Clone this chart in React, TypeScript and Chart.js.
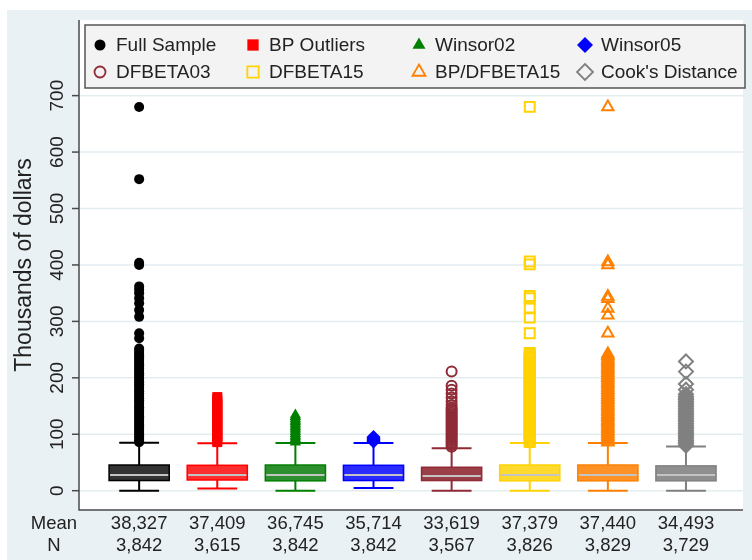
import React, { useEffect, useRef } from "react";
import { Chart, registerables } from "chart.js";

Chart.register(...registerables);

// ---------------- data ----------------
const CATEGORIES = [
  "Full Sample",
  "BP Outliers",
  "Winsor02",
  "Winsor05",
  "DFBETA03",
  "DFBETA15",
  "BP/DFBETA15",
  "Cook's Distance",
];
const MEANS = ["38,327", "37,409", "36,745", "35,714", "33,619", "37,379", "37,440", "34,493"];
const NS = ["3,842", "3,615", "3,842", "3,842", "3,567", "3,826", "3,829", "3,729"];

const Q1 = [18, 19, 17.5, 18, 18, 17.5, 17.5, 17.5];
const MEDIAN = [28, 28, 28, 28, 26, 28, 28, 28];
const Q3 = [45.5, 45, 45.5, 45, 41.5, 45.5, 45.5, 44];
const WHISK_LO = [0, 4, 0, 5, 0, 0, 0, 0];
const WHISK_HI = [85, 84, 84.5, 84.5, 75, 84.5, 84.5, 78.5];

const OUT_FULL = [680, 552, 404, 400, 362, 356, 350, 341, 332, 320, 308, 279, 270, 252, 248, 244, 240,
  236, 232, 228, 224, 220, 216, 212, 208, 204, 200, 196, 192, 188, 184, 180, 176, 172, 168, 164, 160,
  156, 152, 148, 144, 140, 136, 132, 128, 124, 120, 116, 112, 108, 104, 100, 96, 92, 88, 86];
const OUT_BP = [166, 163, 160, 157, 154, 151, 148, 145, 142, 139, 136, 133, 130, 127, 124, 121, 118, 115,
  112, 109, 106, 103, 100, 97, 94, 91, 88, 86];
const OUT_W02 = [134, 131, 128, 125, 122, 119, 116, 113, 110, 107, 104, 101, 98, 95, 92, 89, 86];
const OUT_W05 = [95, 93, 91, 89, 87];
const OUT_DF03 = [211, 186, 179, 172, 165, 158, 152, 147, 144, 141, 138, 135, 132, 129, 126, 123, 120,
  117, 114, 111, 108, 105, 102, 99, 96, 93, 90, 87, 84, 81, 78];
const OUT_DF15 = [680, 406, 401, 345, 341, 323, 307, 279, 244, 241, 238, 235, 232, 229, 226, 223, 220,
  217, 214, 211, 208, 205, 202, 199, 196, 193, 190, 187, 184, 181, 178, 175, 172, 169, 166, 163, 160,
  157, 154, 151, 148, 145, 142, 139, 136, 133, 130, 127, 124, 121, 118, 115, 112, 109, 106, 103, 100,
  97, 94, 91, 88, 86];
const OUT_BPDF15 = [680, 405, 400, 344, 340, 323, 311, 279, 242, 239, 236, 233, 230, 227, 224, 221, 218,
  215, 212, 209, 206, 203, 200, 197, 194, 191, 188, 185, 182, 179, 176, 173, 170, 167, 164, 161, 158,
  155, 152, 149, 146, 143, 140, 137, 134, 131, 128, 125, 122, 119, 116, 113, 110, 107, 104, 101, 98,
  95, 92, 89, 86];
const OUT_COOK = [229, 211, 189, 179, 171, 167, 164, 161, 158, 155, 152, 149, 146, 143, 140, 137, 134,
  131, 128, 125, 122, 119, 116, 113, 110, 107, 104, 101, 98, 95, 92, 89, 86, 83, 80];
const OUTLIERS = [OUT_FULL, OUT_BP, OUT_W02, OUT_W05, OUT_DF03, OUT_DF15, OUT_BPDF15, OUT_COOK];

const Y_TICKS = [0, 100, 200, 300, 400, 500, 600, 700];
const Y_TITLE = "Thousands of dollars";

// ---------------- styles ----------------
const COLORS = ["#000000", "#ff0000", "#008000", "#0000ff", "#8e2b36", "#ffd200", "#ff8000", "#808080"];
const BOX_FILLS = ["#333333", "#ff2e2e", "#2e8f2e", "#2b2bff", "#9a3e48", "#ffda2e", "#ff9226", "#8f8f8f"];
const STYLES = ["circle", "rect", "triangle", "rectRot", "circle", "rect", "triangle", "rectRot"];
const FILLED = [true, true, true, true, false, false, false, false];
const RADII = [5, 7, 6.5, 7, 5, 7, 6.5, 7];

const FONT = '"Liberation Sans", Arial, sans-serif';
const OUTER_BG = "#eaf1f4";
const GRID = "#e3edf0";
const AXIS = "#4a4a4a";
const TEXT = "#222222";

function drawMarker(ctx: CanvasRenderingContext2D, style: string, x: number, y: number, r: number,
  color: string, filled: boolean) {
  ctx.save();
  ctx.beginPath();
  if (style === "circle") {
    ctx.arc(x, y, r, 0, Math.PI * 2);
  } else if (style === "rect") {
    const h = r * Math.SQRT1_2;
    ctx.rect(x - h, y - h, 2 * h, 2 * h);
  } else if (style === "triangle") {
    for (let k = 0; k < 3; k++) {
      const a = -Math.PI / 2 + (k * 2 * Math.PI) / 3;
      const px = x + Math.cos(a) * r;
      const py = y + Math.sin(a) * r;
      if (k === 0) ctx.moveTo(px, py);
      else ctx.lineTo(px, py);
    }
    ctx.closePath();
  } else {
    ctx.moveTo(x, y - r);
    ctx.lineTo(x + r, y);
    ctx.lineTo(x, y + r);
    ctx.lineTo(x - r, y);
    ctx.closePath();
  }
  if (filled) {
    ctx.fillStyle = color;
    ctx.fill();
  } else {
    ctx.strokeStyle = color;
    ctx.lineWidth = 1.8;
    ctx.stroke();
  }
  ctx.restore();
}

const framePlugin = {
  id: "frame",
  beforeDraw(chart: any) {
    const { ctx, chartArea, scales } = chart;
    const W = chart.width;
    const H = chart.height;
    ctx.save();
    ctx.fillStyle = "#ffffff";
    ctx.fillRect(0, 0, W, H);
    ctx.fillStyle = OUTER_BG;
    ctx.fillRect(7, 10, W - 7, H - 10);
    ctx.fillStyle = "#ffffff";
    ctx.fillRect(chartArea.left, chartArea.top, chartArea.right - chartArea.left, chartArea.bottom - chartArea.top);
    ctx.strokeStyle = GRID;
    ctx.lineWidth = 1.5;
    for (const t of Y_TICKS) {
      const y = scales.y.getPixelForValue(t);
      ctx.beginPath();
      ctx.moveTo(chartArea.left, y);
      ctx.lineTo(chartArea.right, y);
      ctx.stroke();
    }
    ctx.restore();
  },
  beforeDatasetsDraw(chart: any) {
    const { ctx, scales } = chart;
    const xs = scales.x;
    const ys = scales.y;
    ctx.save();
    for (let i = 0; i < CATEGORIES.length; i++) {
      const xc = xs.getPixelForValue(i + 1);
      const half = (xs.getPixelForValue(i + 1 + 0.385) - xc);
      const capHalf = (xs.getPixelForValue(i + 1 + 0.255) - xc);
      const yq1 = ys.getPixelForValue(Q1[i]);
      const yq3 = ys.getPixelForValue(Q3[i]);
      const ymed = ys.getPixelForValue(MEDIAN[i]);
      const ylo = ys.getPixelForValue(WHISK_LO[i]);
      const yhi = ys.getPixelForValue(WHISK_HI[i]);
      ctx.strokeStyle = COLORS[i];
      ctx.lineWidth = 2;
      ctx.beginPath();
      ctx.moveTo(xc, yq3);
      ctx.lineTo(xc, yhi);
      ctx.moveTo(xc, yq1);
      ctx.lineTo(xc, ylo);
      ctx.moveTo(xc - capHalf, yhi);
      ctx.lineTo(xc + capHalf, yhi);
      ctx.moveTo(xc - capHalf, ylo);
      ctx.lineTo(xc + capHalf, ylo);
      ctx.stroke();
      ctx.fillStyle = BOX_FILLS[i];
      ctx.fillRect(xc - half, yq3, 2 * half, yq1 - yq3);
      ctx.lineWidth = 1.5;
      ctx.strokeRect(xc - half, yq3, 2 * half, yq1 - yq3);
      ctx.strokeStyle = "#c4c4c4";
      ctx.lineWidth = 2;
      ctx.beginPath();
      ctx.moveTo(xc - half + 1, ymed);
      ctx.lineTo(xc + half - 1, ymed);
      ctx.stroke();
    }
    ctx.restore();
  },
  afterDraw(chart: any) {
    const { ctx, chartArea, scales } = chart;
    const xs = scales.x;
    const ys = scales.y;
    ctx.save();
    ctx.strokeStyle = AXIS;
    ctx.lineWidth = 1.5;
    ctx.beginPath();
    ctx.moveTo(chartArea.left, chartArea.top);
    ctx.lineTo(chartArea.left, chartArea.bottom);
    ctx.lineTo(chartArea.right, chartArea.bottom);
    ctx.stroke();
    ctx.fillStyle = TEXT;
    ctx.font = `19px ${FONT}`;
    ctx.textAlign = "center";
    ctx.textBaseline = "middle";
    for (const t of Y_TICKS) {
      const y = ys.getPixelForValue(t);
      ctx.beginPath();
      ctx.moveTo(chartArea.left - 7, y);
      ctx.lineTo(chartArea.left, y);
      ctx.stroke();
      ctx.save();
      ctx.translate(57, y);
      ctx.rotate(-Math.PI / 2);
      ctx.fillText(String(t), 0, 1);
      ctx.restore();
    }
    ctx.save();
    ctx.font = `23px ${FONT}`;
    ctx.translate(25, (chartArea.top + chartArea.bottom) / 2);
    ctx.rotate(-Math.PI / 2);
    ctx.fillText(Y_TITLE, 0, 0);
    ctx.restore();
    ctx.font = `18.5px ${FONT}`;
    ctx.fillText("Mean", 54, 524);
    ctx.fillText("N", 54, 546);
    for (let i = 0; i < CATEGORIES.length; i++) {
      const xc = xs.getPixelForValue(i + 1);
      ctx.fillText(MEANS[i], xc, 524);
      ctx.fillText(NS[i], xc, 546);
    }
    // legend
    const lx = 85, ly = 25, lw = 660, lh = 63;
    ctx.fillStyle = "#f3f3f3";
    ctx.fillRect(lx, ly, lw, lh);
    ctx.strokeStyle = "#555555";
    ctx.lineWidth = 1.5;
    ctx.strokeRect(lx, ly, lw, lh);
    const colX = [100, 253, 419, 585];
    const rowY = [45, 72];
    ctx.font = `19px ${FONT}`;
    ctx.textAlign = "left";
    for (let i = 0; i < CATEGORIES.length; i++) {
      const c = i % 4;
      const r = Math.floor(i / 4);
      const mx = colX[c];
      const my = rowY[r];
      const mr = STYLES[i] === "circle" ? 5.5 : STYLES[i] === "rect" ? 8 : STYLES[i] === "triangle" ? 7.5 : 8;
      drawMarker(ctx, STYLES[i], mx, my, mr, COLORS[i], FILLED[i]);
      ctx.fillStyle = TEXT;
      ctx.fillText(CATEGORIES[i], mx + 16, my + 1);
    }
    ctx.restore();
  },
};

export default function App() {
  const ref = useRef<HTMLCanvasElement | null>(null);
  useEffect(() => {
    if (!ref.current) return;
    const datasets = CATEGORIES.map((name, i) => ({
      label: name,
      data: OUTLIERS[i].map((v) => ({ x: i + 1, y: v })),
      pointStyle: STYLES[i] as any,
      pointRadius: RADII[i],
      pointHoverRadius: RADII[i],
      pointBackgroundColor: FILLED[i] ? COLORS[i] : "rgba(0,0,0,0)",
      pointBorderColor: COLORS[i],
      pointBorderWidth: FILLED[i] ? 0 : 2,
      showLine: false,
    }));
    const chart = new Chart(ref.current, {
      type: "scatter",
      data: { datasets },
      options: {
        animation: false,
        responsive: false,
        maintainAspectRatio: false,
        layout: { padding: { left: 79, top: 20, right: 0, bottom: 50 } },
        scales: {
          x: { type: "linear", min: 0.23, max: 8.73, display: false },
          y: { type: "linear", min: -34.2, max: 834, display: false },
        },
        plugins: { legend: { display: false }, tooltip: { enabled: false } },
      },
      plugins: [framePlugin],
    });
    return () => chart.destroy();
  }, []);
  return (
    <div style={{ position: "fixed", left: 0, top: 0, width: 752, height: 560, overflow: "hidden" }}>
      <canvas ref={ref} width={752} height={560} style={{ display: "block", width: 752, height: 560 }} />
    </div>
  );
}
